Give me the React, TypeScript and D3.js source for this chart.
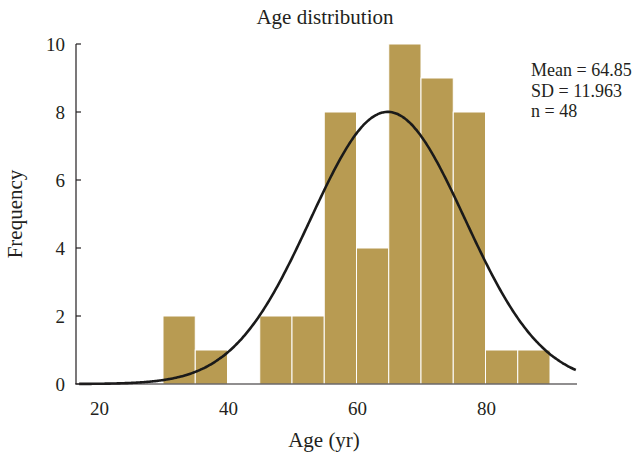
import React from "react";
import * as d3 from "d3";

const binStarts = [30, 35, 45, 50, 55, 60, 65, 70, 75, 80, 85];
const counts = [2, 1, 2, 2, 8, 4, 10, 9, 8, 1, 1];
const binWidth = 5;
const yTicks = [0, 2, 4, 6, 8, 10];
const xTicks = [20, 40, 60, 80];
const meanAge = 64.85;
const sdAge = 11.963;
const nTotal = 48;
const statLines = ["Mean = 64.85", "SD = 11.963", "n = 48"];

const W = 640;
const H = 464;
const FONT = "'Liberation Serif', 'DejaVu Serif', serif";

export default function App() {
  const x = d3.scaleLinear().domain([30, 90]).range([163, 550]);
  const y = d3.scaleLinear().domain([0, 10]).range([384, 44]);
  const x0 = x.invert(75);
  const x1 = x.invert(577);

  const scale = nTotal * binWidth;
  const pts: [number, number][] = d3.range(17, 94.01, 0.25).map((v) => [
    v,
    (scale / (sdAge * Math.sqrt(2 * Math.PI))) * Math.exp(-0.5 * ((v - meanAge) / sdAge) ** 2),
  ]);
  const line = d3
    .line<[number, number]>()
    .x((d) => x(d[0]))
    .y((d) => y(d[1]))
    .curve(d3.curveBasis);

  return (
    <svg width={W} height={H} style={{ position: "absolute", left: 0, top: 0, background: "#fff" }}>
      <rect x={0} y={0} width={W} height={H} fill="#fff" />
      <text x={325} y={24} textAnchor="middle" fontFamily={FONT} fontSize={21} fill="#231f20">
        Age distribution
      </text>
      {binStarts.map((s, i) => (
        <rect
          key={s}
          x={x(s)}
          y={y(counts[i])}
          width={x(s + binWidth) - x(s)}
          height={y(0) - y(counts[i])}
          fill="#b89b52"
          stroke="#fff"
          strokeWidth={1}
        />
      ))}
      <path d={line(pts) || ""} fill="none" stroke="#1a1a1a" strokeWidth={2.6} />
      <line x1={x(x0)} x2={x(x1)} y1={y(0)} y2={y(0)} stroke="#231f20" strokeWidth={1.2} />
      <line x1={76} x2={76} y1={y(10)} y2={y(0)} stroke="#231f20" strokeWidth={1.2} />
      {yTicks.map((t) => (
        <g key={t}>
          <line x1={76} x2={81} y1={y(t)} y2={y(t)} stroke="#231f20" strokeWidth={1.2} />
          <text x={65} y={y(t)} dy="0.35em" textAnchor="end" fontFamily={FONT} fontSize={19} fill="#231f20">
            {t}
          </text>
        </g>
      ))}
      {xTicks.map((t) => (
        <text key={t} x={x(t) + 1} y={415} textAnchor="middle" fontFamily={FONT} fontSize={19} fill="#231f20">
          {t}
        </text>
      ))}
      <text x={324} y={447} textAnchor="middle" fontFamily={FONT} fontSize={21} fill="#231f20">
        Age (yr)
      </text>
      <text
        transform={`translate(22, ${(y(0) + y(10)) / 2}) rotate(-90)`}
        textAnchor="middle"
        fontFamily={FONT}
        fontSize={21}
        fill="#231f20"
      >
        Frequency
      </text>
      {statLines.map((s, i) => (
        <text key={s} x={531} y={76 + i * 20.5} fontFamily={FONT} fontSize={18} fill="#231f20">
          {s}
        </text>
      ))}
    </svg>
  );
}
